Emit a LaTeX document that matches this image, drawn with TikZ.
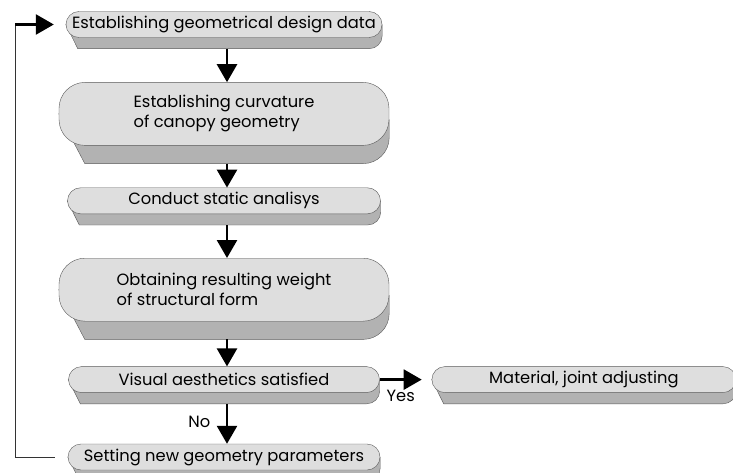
\documentclass[tikz,border=0pt]{standalone}
\usepackage{fontspec}
\setmainfont{Poppins}
\usetikzlibrary{positioning, arrows.meta, backgrounds}
\tikzset{
box/.style={rectangle, rounded corners=13pt, draw=black!65, fill=black!13, thin, minimum height=26pt, inner sep=2pt, font=\fontsize{16.3}{20}\selectfont}, % flat step of the flow
tallbox/.style={box, rounded corners=26pt, minimum height=63pt, align=left}, % step with two lines
side/.style={draw=black!65, fill=black!30, thin, rounded corners=0pt}, % lower face of a step
flow/.style={-{Triangle[length=18pt, width=20pt]}, line width=2.6pt}, % bold arrows
node distance=44pt, % gap between two steps
}

\begin{document}
\begin{tikzpicture}[x=1pt, y=1pt]
\useasboundingbox (0,0) rectangle (733,-473);
\node[box, minimum width=316pt] (geo) at (224,-24.5) {Establishing geometrical design data};
\node[tallbox, minimum width=330pt, below=44.5pt of geo] (curv) {Establishing curvature\\of canopy geometry};
\node[box, minimum width=313pt, below=42pt of curv] (stat) {Conduct static analisys};
\node[tallbox, minimum width=330pt, below=of stat] (weight) {Obtaining resulting weight\\of structural form};
\node[box, minimum width=311pt, below=45pt of weight] (vis) {Visual aesthetics satisfied};
\node[box, minimum width=304pt, right=52pt of vis] (mat) {Material, joint adjusting};
\node[box, minimum width=312pt, below=51pt of vis] (setg) {Setting new geometry parameters};
\coordinate (back) at (15,-24.5);

% lower faces
\begin{scope}[on background layer]
\foreach \b/\r/\d/\e in {geo/13/11/12, curv/26/18/26, stat/13/11/12, weight/26/18/26, vis/13/11/12, mat/13/11/12, setg/13/11/12}
  \draw[side] (\b.west) -- ([shift={(\e,-\d)}]\b.south west) -- ([shift={(-\r,-\d)}]\b.south east)
    arc[start angle=-90, end angle=0, radius=\r pt] -- ([yshift=\r pt]\b.south east) -- cycle;
\end{scope}

\draw[flow] ([shift={(3,-11)}]geo.south) -- ([xshift=3pt]curv.north);
\draw[flow] ([shift={(3,-18)}]curv.south) -- ([xshift=3pt]stat.north);
\draw[flow] ([shift={(3,-11)}]stat.south) -- ([xshift=3pt]weight.north);
\draw[flow] ([shift={(3,-18)}]weight.south) -- ([xshift=3pt]vis.north);
\draw[flow] ([shift={(3,-11)}]vis.south) -- ([xshift=3pt]setg.north)
  node[midway, left=12pt, yshift=2pt, font=\fontsize{16.3}{20}\selectfont] {No};
\draw[flow] (vis.east) -- ([xshift=-10pt]mat.west)
  node[midway, below=6pt, font=\fontsize{16.3}{20}\selectfont] {Yes};
\draw[black!80] ([xshift=-13pt]setg.west) -| (back);
\draw[flow] (back) -- ([xshift=-12pt]geo.west);
\end{tikzpicture}
\end{document}
